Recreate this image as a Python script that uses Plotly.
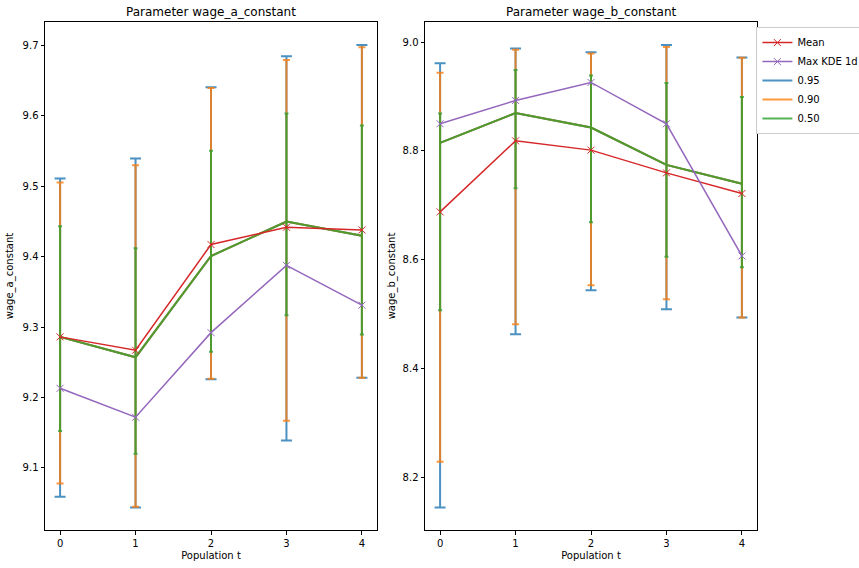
import plotly.graph_objects as go

t = [0, 1, 2, 3, 4]

# Panel A: wage_a_constant
a_mean = [9.286, 9.267, 9.417, 9.4415, 9.4376]
a_kde = [9.213, 9.172, 9.292, 9.3875, 9.331]
a_center = [9.286, 9.257, 9.4007, 9.4495, 9.4296]
a_95_lo = [9.059, 9.044, 9.226, 9.139, 9.228]
a_95_hi = [9.5105, 9.539, 9.640, 9.684, 9.700]
a_90_lo = [9.078, 9.045, 9.2265, 9.167, 9.228]
a_90_hi = [9.505, 9.5295, 9.639, 9.6787, 9.697]
a_50_lo = [9.1525, 9.120, 9.265, 9.3165, 9.2895]
a_50_hi = [9.443, 9.4116, 9.550, 9.603, 9.586]

# Panel B: wage_b_constant
b_mean = [8.6878, 8.8184, 8.8013, 8.7595, 8.7215]
b_kde = [8.8497, 8.8926, 8.9257, 8.8497, 8.6068]
b_center = [8.8147, 8.8694, 8.8429, 8.7742, 8.7393]
b_95_lo = [8.1444, 8.4627, 8.5437, 8.5087, 8.4935]
b_95_hi = [8.961, 8.988, 8.981, 8.9945, 8.9717]
b_90_lo = [8.2284, 8.481, 8.553, 8.527, 8.4935]
b_90_hi = [8.9435, 8.986, 8.979, 8.991, 8.971]
b_50_lo = [8.507, 8.7314, 8.6688, 8.6055, 8.5859]
b_50_hi = [8.8686, 8.9485, 8.9386, 8.9246, 8.8988]

BLUE, ORANGE, GREEN, RED, PURPLE = "#1f77b4", "#ff7f0e", "#2ca02c", "#d62728", "#9467bd"

fig = go.Figure()

panels = [
    ("x", "y", a_mean, a_kde, a_center,
     [("0.95", a_95_lo, a_95_hi, BLUE, 5.5), ("0.90", a_90_lo, a_90_hi, ORANGE, 3.5), ("0.50", a_50_lo, a_50_hi, GREEN, 2)]),
    ("x2", "y2", b_mean, b_kde, b_center,
     [("0.95", b_95_lo, b_95_hi, BLUE, 5.5), ("0.90", b_90_lo, b_90_hi, ORANGE, 3.5), ("0.50", b_50_lo, b_50_hi, GREEN, 2)]),
]

for i, (xa, ya, mean, kde, center, bands) in enumerate(panels):
    show = i == 1
    for rank, (name, lo, hi, col, cw) in enumerate(bands):
        fig.add_trace(go.Scatter(
            x=t, y=center, xaxis=xa, yaxis=ya, mode="lines", name=name,
            line=dict(color=col, width=2), opacity=0.8,
            error_y=dict(type="data", symmetric=False,
                         array=[h - c for h, c in zip(hi, center)],
                         arrayminus=[c - l for c, l in zip(center, lo)],
                         color=col, thickness=2, width=cw),
            showlegend=show, legendrank=3 + rank, hoverinfo="skip"))
    fig.add_trace(go.Scatter(
        x=t, y=mean, xaxis=xa, yaxis=ya, mode="lines+markers", name="Mean",
        line=dict(color=RED, width=1.5),
        marker=dict(symbol="x-thin", size=7, line=dict(color=RED, width=1)),
        showlegend=show, legendrank=1))
    fig.add_trace(go.Scatter(
        x=t, y=kde, xaxis=xa, yaxis=ya, mode="lines+markers", name="Max KDE 1d",
        line=dict(color=PURPLE, width=1.5),
        marker=dict(symbol="x-thin", size=7, line=dict(color=PURPLE, width=1)),
        showlegend=show, legendrank=2))

axis_common = dict(showline=True, mirror=True, linecolor="#000", linewidth=1,
                   ticks="outside", ticklen=3.5, tickcolor="#000", showgrid=False,
                   zeroline=False, automargin=False, tickfont=dict(size=10, color="#000"))

L, R = 45.3, 757.3
W = R - L
def dom(a, b):
    return [(a - L) / W, (b - L) / W]

fig.update_layout(
    width=859, height=568,
    margin=dict(l=L, r=859 - R, t=22.3, b=38.3, autoexpand=False),
    plot_bgcolor="white", paper_bgcolor="white",
    font=dict(family="DejaVu Sans", size=10, color="#000"),
    xaxis=dict(domain=dom(45.3, 377.3), range=[-0.2, 4.2], tickvals=t,
               title=dict(text="Population t", standoff=4, font=dict(size=10)), **axis_common),
    yaxis=dict(range=[9.012, 9.7327], dtick=0.1, tickformat=".1f",
               title=dict(text="wage_a_constant", standoff=7, font=dict(size=10)), **axis_common),
    xaxis2=dict(domain=dom(425.3, 757.3), range=[-0.2, 4.2], tickvals=t, anchor="y2",
                title=dict(text="Population t", standoff=4, font=dict(size=10)), **axis_common),
    yaxis2=dict(range=[8.103, 9.0368], dtick=0.2, tickformat=".1f", anchor="x2",
                title=dict(text="wage_b_constant", standoff=5, font=dict(size=10)), **axis_common),
    legend=dict(x=(756.7 - L) / W, y=0.99, xanchor="left", yanchor="top",
                bordercolor="#cccccc", borderwidth=1, bgcolor="white",
                font=dict(size=10), tracegroupgap=0, itemwidth=30),
    annotations=[
        dict(text="Parameter wage_a_constant", x=sum(dom(45.3, 377.3)) / 2, y=1, xref="paper", yref="paper",
             xanchor="center", yanchor="bottom", yshift=1, showarrow=False, font=dict(size=12)),
        dict(text="Parameter wage_b_constant", x=sum(dom(425.3, 757.3)) / 2, y=1, xref="paper", yref="paper",
             xanchor="center", yanchor="bottom", yshift=1, showarrow=False, font=dict(size=12)),
    ],
)

fig.write_html("out.html")
